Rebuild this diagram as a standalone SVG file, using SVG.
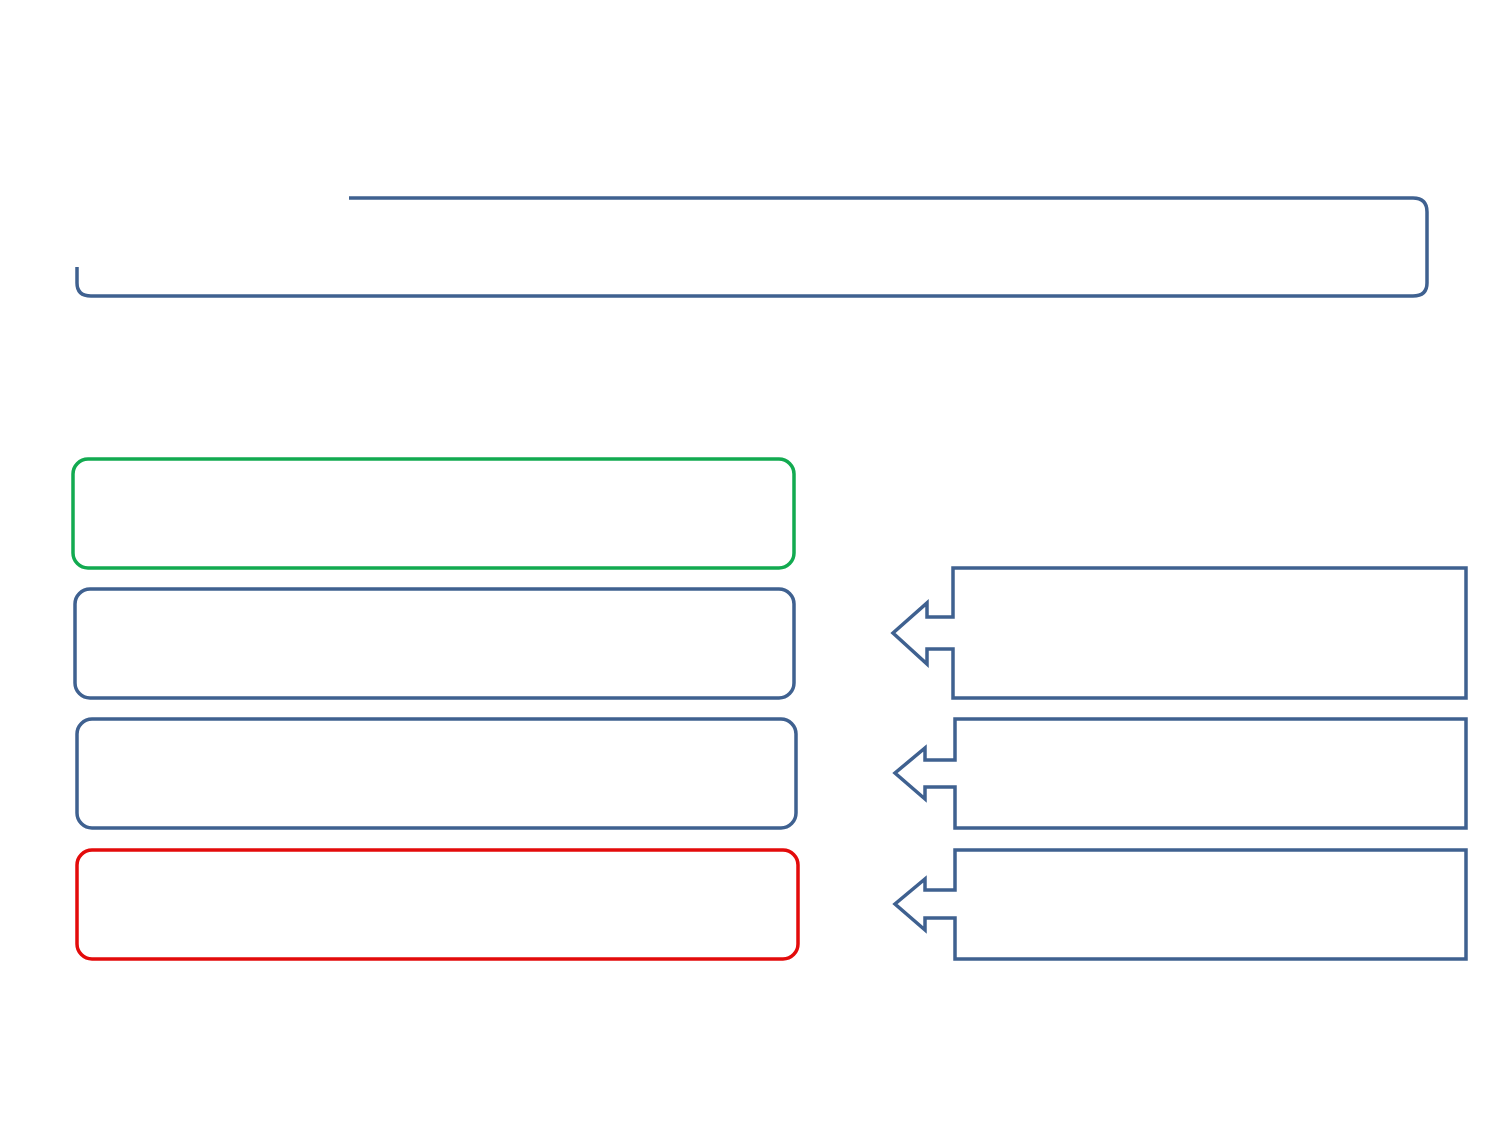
<svg xmlns="http://www.w3.org/2000/svg" width="1500" height="1125" viewBox="0 0 1500 1125">
<style>
.s{fill:none;stroke-width:3.5;stroke-linejoin:miter}
.b{stroke:#3F6190}
.g{stroke:#12AA50}
.r{stroke:#E30B0B}
</style>
<rect width="1500" height="1125" fill="#fff"/>
<g id="header"><path class="s b" d="M349 198 H1413 Q1427 198 1427 212 V283 Q1427 296 1413 296 H91 Q77 296 77 283 V267"/></g>
<g id="box1"><rect class="s g" x="73" y="459" width="721" height="109" rx="15"/></g>
<g id="box2"><rect class="s b" x="75" y="589" width="719" height="109" rx="15"/></g>
<g id="box3"><rect class="s b" x="77" y="719" width="719" height="109" rx="15"/></g>
<g id="box4"><rect class="s r" x="77" y="850" width="721" height="109" rx="15"/></g>
<g id="callout1"><path class="s b" d="M953 568 H1466 V698 H953 V649 H927 V664 L893 633 L927 603 V617 H953 Z"/></g>
<g id="callout2"><path class="s b" d="M955 719 H1466 V828 H955 V787 H925 V799 L895 773 L925 748 V760 H955 Z"/></g>
<g id="callout3"><path class="s b" d="M955 850 H1466 V959 H955 V918 H925 V930 L895 904 L925 879 V890 H955 Z"/></g>
<g id="connectors"></g>
</svg>
